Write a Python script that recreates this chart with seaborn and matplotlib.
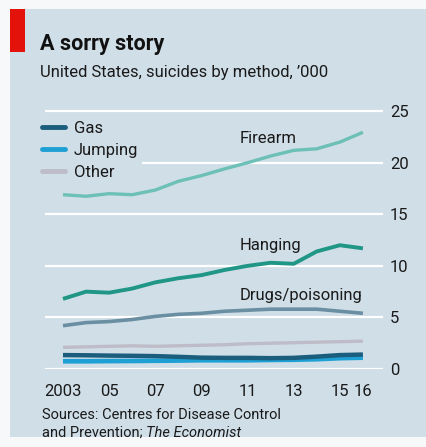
import matplotlib
matplotlib.use("Agg")
import matplotlib.pyplot as plt
from matplotlib.lines import Line2D
import seaborn as sns
import pandas as pd

years = list(range(2003, 2017))
firearm = [16.9, 16.75, 17.0, 16.9, 17.35, 18.2, 18.75, 19.4, 20.0, 20.65, 21.2, 21.35, 22.0, 22.95]
hanging = [6.8, 7.5, 7.4, 7.8, 8.4, 8.8, 9.1, 9.6, 10.0, 10.3, 10.2, 11.4, 12.0, 11.7]
drugs = [4.2, 4.5, 4.6, 4.8, 5.1, 5.3, 5.4, 5.6, 5.7, 5.8, 5.8, 5.8, 5.6, 5.4]
other = [2.1, 2.15, 2.2, 2.25, 2.2, 2.25, 2.3, 2.35, 2.45, 2.5, 2.55, 2.6, 2.65, 2.7]
jumping = [0.75, 0.75, 0.77, 0.78, 0.8, 0.82, 0.85, 0.85, 0.85, 0.88, 0.9, 0.95, 1.05, 1.1]
gas = [1.35, 1.33, 1.3, 1.28, 1.25, 1.18, 1.1, 1.08, 1.08, 1.05, 1.08, 1.2, 1.35, 1.4]

methods = ["Firearm", "Hanging", "Drugs/poisoning", "Other", "Jumping", "Gas"]
series = [firearm, hanging, drugs, other, jumping, gas]
xtick_years = [2003, 2005, 2007, 2009, 2011, 2013, 2015, 2016]
xtick_labels = ["2003", "05", "07", "09", "11", "13", "15", "16"]
yticks = [0, 5, 10, 15, 20, 25]

title = "A sorry story"
subtitle = "United States, suicides by method, \u2019000"
source1 = "Sources: Centres for Disease Control"
source2a = "and Prevention; "
source2b = "The Economist"

df = pd.DataFrame(
    [(y, m, v) for m, s in zip(methods, series) for y, v in zip(years, s)],
    columns=["year", "method", "value"],
)

palette = {
    "Firearm": "#6cc0b6",
    "Hanging": "#1f9686",
    "Drugs/poisoning": "#6a8fa2",
    "Other": "#bdbcc8",
    "Jumping": "#1fa0d4",
    "Gas": "#1b5d7c",
}
widths = {"Firearm": 2.4, "Hanging": 2.8, "Drugs/poisoning": 2.6, "Other": 2.4, "Jumping": 3.4, "Gas": 3.2}

PANEL = "#d0dee7"
sns.set_theme(style="white")
plt.rcParams["font.family"] = ["Roboto", "DejaVu Sans"]

fig = plt.figure(figsize=(4.26, 4.47), dpi=100)
fig.patch.set_facecolor("#f6f8f9")
# panel background
fig.patches.append(plt.Rectangle((10 / 426, 1 - 437 / 447), 416 / 426, 428 / 447,
                                 transform=fig.transFigure, facecolor=PANEL, edgecolor="none", zorder=-2))
fig.patches.append(plt.Rectangle((10 / 426, 1 - 52 / 447), 15 / 426, 43 / 447,
                                 transform=fig.transFigure, facecolor="#e3120b", edgecolor="none", zorder=-1))

ax = fig.add_axes([45 / 426, 1 - 369 / 447, 338 / 426, 263 / 447])
ax.set_zorder(3)
ax.patch.set_alpha(0)

for m in methods:
    sns.lineplot(data=df[df.method == m], x="year", y="value", color=palette[m],
                 linewidth=widths[m], ax=ax, legend=False, solid_capstyle="butt")

ax.set_xlim(2002.22, 2016.87)
ax.set_ylim(0, 25.5)
for v in yticks:
    ax.axhline(v, color="white", linewidth=1.6, zorder=0.5)

for s in ax.spines.values():
    s.set_visible(False)

ax.yaxis.tick_right()
ax.set_yticks(yticks)
ax.set_yticklabels([str(v) for v in yticks], fontsize=12, color="#1a1a1a")
ax.tick_params(axis="y", length=0, pad=5)
ax.set_xticks(xtick_years)
ax.set_xticklabels(xtick_labels, fontsize=12, color="#1a1a1a")
ax.tick_params(axis="x", length=8, width=1, color="#a8b4bc", pad=3, direction="out")
ax.set_xlabel("")
ax.set_ylabel("")

# direct labels
ax.text(2010.65, 21.9, "Firearm", fontsize=12, color="#1a1a1a")
ax.text(2010.65, 11.5, "Hanging", fontsize=12, color="#1a1a1a")
ax.text(2010.65, 6.7, "Drugs/poisoning", fontsize=12, color="#1a1a1a")

handles = [Line2D([], [], color=palette[m], linewidth=3.5) for m in ["Gas", "Jumping", "Other"]]
leg = ax.legend(handles, ["Gas", "Jumping", "Other"], loc="upper left",
                bbox_to_anchor=(-0.02, 0.955), frameon=True, fontsize=12,
                handlelength=1.4, handletextpad=0.55, labelspacing=0.42,
                borderpad=0.2, borderaxespad=0)
leg.get_frame().set_facecolor(PANEL)
leg.get_frame().set_edgecolor("none")
leg.get_frame().set_alpha(1)
for t in leg.get_texts():
    t.set_color("#1a1a1a")

fig.text(40 / 426, 1 - 44 / 447, title, fontsize=15.5, fontweight="bold", color="#111111", va="center")
fig.text(40 / 426, 1 - 73 / 447, subtitle, fontsize=12, color="#1a1a1a", va="center")
fig.text(42 / 426, 1 - 415 / 447, source1, fontsize=10.5, color="#1a1a1a", va="center")
t2 = fig.text(42 / 426, 1 - 433 / 447, source2a, fontsize=10.5, color="#1a1a1a", va="center")
fig.canvas.draw()
bb = t2.get_window_extent()
fig.text(bb.x1 / fig.bbox.width, 1 - 433 / 447, source2b, fontsize=10.5, color="#1a1a1a",
         va="center", style="italic")

fig.savefig("out.png", dpi=100, facecolor=fig.get_facecolor())
